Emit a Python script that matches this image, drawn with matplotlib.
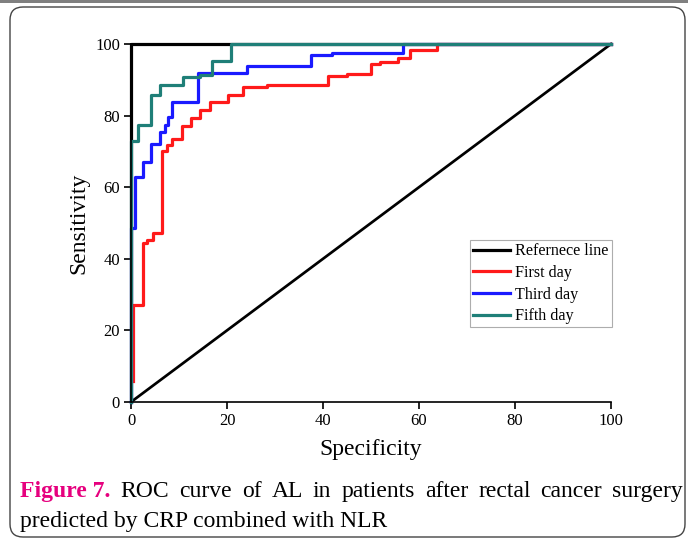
import matplotlib.pyplot as plt
from matplotlib.patches import FancyBboxPatch, Rectangle

plt.rcParams["font.family"] = ["Liberation Serif", "DejaVu Serif"]

# ROC data (specificity axis as drawn, sensitivity in %)
ref_x = [0, 0, 100]
ref_y = [0, 100, 100]
diag_x = [0, 100]
diag_y = [0, 100]

first_x = [0.5, 0.5, 2.6, 3.3, 4.6, 6.4, 7.5, 8.5, 10.6, 12.6, 14.4, 16.5,
           20.3, 23.4, 28.3, 41.1, 44.9, 49.9, 51.9, 55.7, 58.1, 63.7, 100]
first_y = [6, 27, 44.3, 45.2, 47.1, 70, 71.8, 73.6, 77, 79.2, 81.6, 83.9,
           85.8, 87.9, 88.5, 91.2, 91.5, 94.4, 95, 96, 98.2, 100, 100]

third_x = [0, 0, 0.9, 2.6, 4.2, 6, 7.1, 7.8, 8.5, 14, 24.1, 37.6, 41.8, 56.7, 100]
third_y = [0, 48.5, 62.9, 67.1, 72, 75.3, 77.4, 79.5, 83.9, 91.8, 93.9, 96.9, 97.6, 100, 100]

fifth_x = [0, 0, 1.5, 4.1, 6, 10.9, 14.4, 16.8, 20.8, 100]
fifth_y = [0, 73, 77.4, 85.8, 88.6, 90.7, 91.3, 95.3, 100, 100]

ticks = [0, 20, 40, 60, 80, 100]
labels = ["Refernece line", "First day", "Third day", "Fifth day"]
colors = ["black", "#ff1a1a", "#1a1aff", "#1f7f78"]

fig = plt.figure(figsize=(6.88, 5.4), dpi=100)

# page decoration: grey strip on top and rounded frame
fig.patches.append(Rectangle((0, 537 / 540), 1, 3 / 540, transform=fig.transFigure,
                             facecolor="#808080", edgecolor="none"))
fig.patches.append(FancyBboxPatch((0.10, 0.03), 6.75, 5.30, boxstyle="round,pad=0,rounding_size=0.13",
                                  transform=fig.dpi_scale_trans, facecolor="none",
                                  edgecolor="#444444", linewidth=1.0))

ax = fig.add_axes([131 / 688, 138 / 540, 480 / 688, 358 / 540])
lw = 2.3
ax.plot(ref_x, ref_y, color=colors[0], lw=lw, clip_on=False, label=labels[0])
ax.plot(diag_x, diag_y, color=colors[0], lw=lw * 0.85, clip_on=False)
ax.step(first_x, first_y, where="post", color=colors[1], lw=lw, clip_on=False, label=labels[1])
ax.step(third_x, third_y, where="post", color=colors[2], lw=lw, clip_on=False, label=labels[2])
ax.step(fifth_x, fifth_y, where="post", color=colors[3], lw=lw, clip_on=False, label=labels[3])

ax.set_xlim(0, 100)
ax.set_ylim(0, 100)
ax.set_xticks(ticks)
ax.set_yticks(ticks)
ax.tick_params(direction="out", length=5, width=1.2, labelsize=12, pad=3)
for s in ["top", "right"]:
    ax.spines[s].set_visible(False)
for s in ["left", "bottom"]:
    ax.spines[s].set_linewidth(1.2)

ax.set_xlabel("Specificity", fontsize=17, labelpad=7)
ax.set_ylabel("Sensitivity", fontsize=17, labelpad=4)

leg = ax.legend(loc="upper left", bbox_to_anchor=(0.706, 0.4525), borderaxespad=0,
                fontsize=11.6, handlelength=2.3, handletextpad=0.3, labelspacing=0.35,
                borderpad=0.2, frameon=True, fancybox=False)
leg.get_frame().set_edgecolor("#999999")
leg.get_frame().set_linewidth(0.8)

# caption, first line justified between x=20 and x=683 px
fs = 17
y1 = 1 - 497 / 540
y2 = 1 - 527 / 540
left, right = 20 / 688, 683 / 688
r = fig.canvas.get_renderer()
words = ["Figure 7.", "ROC", "curve", "of", "AL", "in", "patients", "after",
         "rectal", "cancer", "surgery"]
items = []
for i, w in enumerate(words):
    if i == 0:
        t = fig.text(left, y1, w, fontsize=fs, fontweight="bold", color="#e6007e")
    else:
        t = fig.text(0, y1, w, fontsize=fs, color="black")
    items.append(t)
widths = [t.get_window_extent(r).width / 688 for t in items]
gap = (right - left - sum(widths)) / (len(items) - 1)
x = left
for t, wd in zip(items, widths):
    t.set_x(x)
    x += wd + gap
fig.text(left, y2, "predicted by CRP combined with NLR", fontsize=fs, color="black")

fig.savefig("out.png", dpi=100)
